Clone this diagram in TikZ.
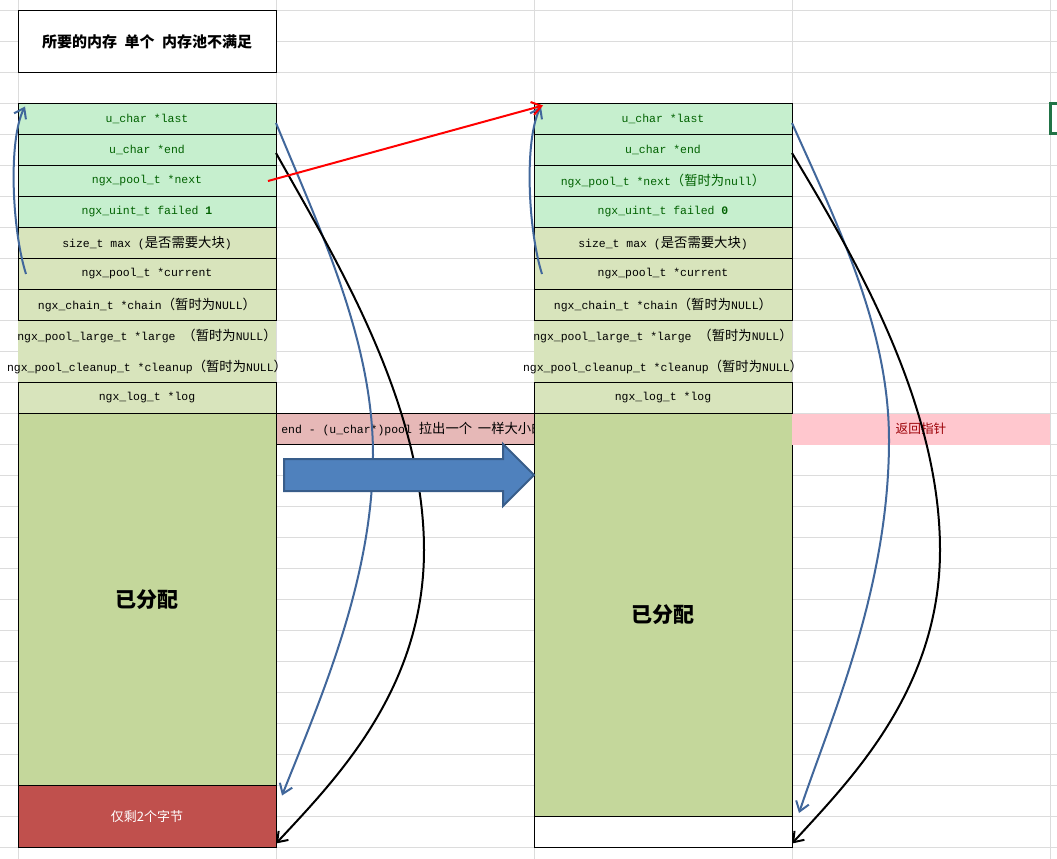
\documentclass[tikz,border=0pt]{standalone}
\usepackage{fontspec}
\setmainfont{Liberation Mono}
\newfontfamily\cjk{Noto Sans CJK SC}
\usetikzlibrary{arrows.meta}
\definecolor{lgreen}{HTML}{C6EFCE}
\definecolor{dgreen}{HTML}{006100}
\definecolor{oliveA}{HTML}{D8E4BC}
\definecolor{oliveB}{HTML}{C4D79B}
\definecolor{redcell}{HTML}{C0504D}
\definecolor{pinkcell}{HTML}{E6B8B7}
\definecolor{pinkret}{HTML}{FFC7CE}
\definecolor{darkred}{HTML}{9C0006}
\definecolor{gridc}{HTML}{DCDCDC}
\definecolor{curveb}{HTML}{41679B}
\definecolor{arrowf}{HTML}{4F81BD}
\definecolor{arrowd}{HTML}{385D8A}
\definecolor{selg}{HTML}{217346}
\newcommand\cj[1]{{\cjk\fontsize{10}{12}\selectfont #1}}
\begin{document}
\begin{tikzpicture}[x=0.75pt,y=-0.75pt,
  cellbox/.style={draw=black,line width=0.75pt,inner sep=0pt,outer sep=0pt,
    minimum width=193.5pt,minimum height=23.25pt,anchor=north west,
    font=\fontsize{8.6}{10}\selectfont},
  hdrrow/.style={cellbox,fill=lgreen,text=dgreen},
  bodyrow/.style={cellbox,fill=oliveA},
  freetext/.style={inner sep=0pt,font=\fontsize{8.6}{10}\selectfont},
  gridline/.style={draw=gridc,line width=0.75pt},
  ptr/.style={line width=1.5pt,-{Straight Barb[length=7pt,width=10pt]}},
  blueptr/.style={ptr,draw=curveb},
  blackptr/.style={ptr,draw=black},
  redptr/.style={ptr,draw=red}]
\useasboundingbox (0,0) rectangle (1057,859);
\fill[white] (0,0) rectangle (1057,859);
% grid
\foreach \i in {0,...,27} \draw[gridline] (0,10.5+31*\i) -- (1057,10.5+31*\i);
\foreach \x in {18,276,534,792,1050} \draw[gridline] (\x,0) -- (\x,859);
% title
\node[cellbox,fill=white,minimum height=46.5pt] (title) at (18,10.5)
  {\cjk\bfseries\fontsize{11.25}{13}\selectfont 所要的内存\hspace{0.5em}单个\hspace{0.5em}内存池不满足};
% fills of the border-less rows
\fill[oliveA] (18,320.5) rectangle (276,382.5);
\fill[oliveA] (534,320.5) rectangle (792,382.5);
% left pool
\node[hdrrow] (L1) at (18,103.5) {u\_char *last};
\node[hdrrow] (L2) at (18,134.5) {u\_char *end};
\node[hdrrow] (L3) at (18,165.5) {ngx\_pool\_t *next};
\node[hdrrow] (L4) at (18,196.5) {ngx\_uint\_t failed \textbf{1}};
\node[bodyrow] (L5) at (18,227.5) {size\_t max (\cj{是否需要大块})};
\node[bodyrow] (L6) at (18,258.5) {ngx\_pool\_t *current};
\node[bodyrow] (L7) at (18,289.5) {ngx\_chain\_t *chain\cj{（暂时为}NULL\cj{）}};
\node[freetext] (L8) at (147,336) {ngx\_pool\_large\_t *large \cj{（暂时为}NULL\cj{）}};
\node[freetext] (L9) at (147,367) {ngx\_pool\_cleanup\_t *cleanup\cj{（暂时为}NULL\cj{）}};
\node[bodyrow] (L10) at (18,382.5) {ngx\_log\_t *log};
\node[cellbox,fill=oliveB,minimum height=279pt] (Lbig) at (18,413.5)
  {\cjk\bfseries\fontsize{15.75}{18}\selectfont 已分配};
\node[cellbox,fill=redcell,minimum height=46.5pt,text=white] (Lrem) at (18,785.5)
  {\cjk\fontsize{9.75}{12}\selectfont 仅剩2个字节};
% right pool
\node[hdrrow] (R1) at (534,103.5) {u\_char *last};
\node[hdrrow] (R2) at (534,134.5) {u\_char *end};
\node[hdrrow] (R3) at (534,165.5) {ngx\_pool\_t *next\cj{（暂时为}null\cj{）}};
\node[hdrrow] (R4) at (534,196.5) {ngx\_uint\_t failed \textbf{0}};
\node[bodyrow] (R5) at (534,227.5) {size\_t max (\cj{是否需要大块})};
\node[bodyrow] (R6) at (534,258.5) {ngx\_pool\_t *current};
\node[bodyrow] (R7) at (534,289.5) {ngx\_chain\_t *chain\cj{（暂时为}NULL\cj{）}};
\node[freetext] (R8) at (663,336) {ngx\_pool\_large\_t *large \cj{（暂时为}NULL\cj{）}};
\node[freetext] (R9) at (663,367) {ngx\_pool\_cleanup\_t *cleanup\cj{（暂时为}NULL\cj{）}};
\node[bodyrow] (R10) at (534,382.5) {ngx\_log\_t *log};
\node[cellbox,fill=oliveB,minimum height=302.25pt] (Rbig) at (534,413.5)
  {\cjk\bfseries\fontsize{15.75}{18}\selectfont 已分配};
\node[cellbox,fill=white] (Rrem) at (534,816.5) {};
% pink note cell
\node[cellbox,fill=pinkcell] (note) at (276,413.5) {};
\begin{scope}
\clip (276,413.5) rectangle (534,444.5);
\node[freetext,anchor=west] (notetext) at (281,429)
  {end - (u\_char*)pool \cj{拉出一个}\hspace{0.5em}\cj{一样大小的}};
\end{scope}
% return pointer cell
\fill[pinkret] (792,413.5) rectangle (1050,444.5);
\node[inner sep=0pt,text=darkred] (ret) at (921,429) {\cjk\fontsize{9.5}{12}\selectfont 返回指针};
% connectors
\draw[blueptr] ([xshift=6pt]L6.west) .. controls (12,230) and (8,140) .. ([shift={(5.25pt,-2.25pt)}]L1.north west);
\draw[blueptr] ([xshift=6pt]R6.west) .. controls (528,230) and (524,140) .. ([shift={(5.25pt,-2.25pt)}]R1.north west);
\draw[blueptr] ([yshift=-3pt]L1.east) .. controls (320,230) and (373,340) .. (373,455)
  .. controls (373,580) and (320,700) .. ([shift={(4.5pt,-7.5pt)}]Lrem.north east);
\draw[blackptr] ([yshift=-2.25pt]L2.east) .. controls (330,250) and (424,400) .. (424,550)
  .. controls (424,690) and (335,780) .. ([yshift=3pt]Lrem.south east);
\draw[blueptr] ([yshift=-3pt]R1.east) .. controls (840,230) and (889,330) .. (889,440)
  .. controls (889,590) and (830,720) .. ([shift={(5.25pt,2.6pt)}]Rrem.north east);
\draw[blackptr] ([yshift=-2.25pt]R2.east) .. controls (850,250) and (940,400) .. (940,550)
  .. controls (940,690) and (850,780) .. ([yshift=3pt]Rrem.south east);
% block arrow
\draw[fill=arrowf,draw=arrowd,line width=1.5pt,line join=miter]
  (284,459) -- (503,459) -- (503,444) -- (534,475) -- (503,506) -- (503,491) -- (284,491) -- cycle;
% red next pointer
\draw[redptr] ([xshift=-6pt]L3.east) -- ([shift={(6.75pt,-1.5pt)}]R1.north west);
% selection mark
\draw[selg,line width=2.25pt] (1057,104) -- (1050,104) -- (1050,134) -- (1057,134);
\end{tikzpicture}
\end{document}
